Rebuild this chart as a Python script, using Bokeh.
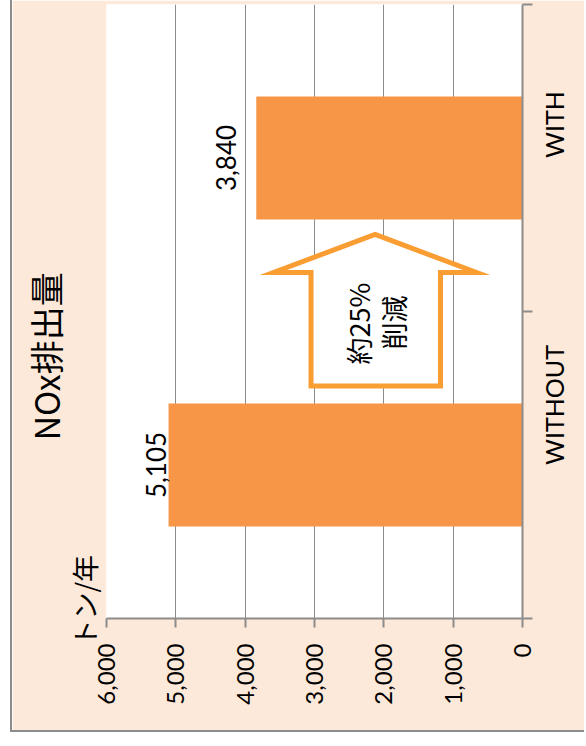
import math
from bokeh.plotting import figure
from bokeh.models import (Range1d, LinearAxis, FixedTicker, NumeralTickFormatter,
                          ColumnDataSource, Label, PolyAnnotation, Grid, Title)
from bokeh.core.properties import value
from bokeh.embed import file_html
from bokeh.resources import INLINE

# ---- data ----
categories = ["WITHOUT", "WITH"]
emissions = [5105, 3840]
emission_labels = ["5,105", "3,840"]
value_ticks = [0, 1000, 2000, 3000, 4000, 5000, 6000]
title_text = "NOx排出量"
unit_text = "トン/年"
arrow_line1 = "約25%"
arrow_line2 = "削減"

# ---- styles ----
PINK = "#FDE9D9"
BAR = "#F79646"
ARROW = "#FA9E33"
GRAY = "#8C8C8C"
LATIN = "Lato"
CJK = "Noto Sans CJK JP"
label_dx = [-13, -30]

centers = [i + 0.5 for i in range(len(categories))]
bounds = list(range(len(categories) + 1))

src = ColumnDataSource(dict(y=centers, v=emissions, t=emission_labels, dx=label_dx))

p = figure(width=574, height=732, output_backend="svg", toolbar_location=None,
           x_range=Range1d(max(value_ticks), 0), y_range=Range1d(0, len(categories)),
           x_axis_location=None, y_axis_location=None,
           min_border_left=94, min_border_right=64, min_border_top=4, min_border_bottom=114)
p.center = [r for r in p.center if not isinstance(r, Grid)]
p.border_fill_color = PINK
p.background_fill_color = "white"
p.outline_line_color = None
p.margin = (0, 0, 12, 10)
p.styles = {"border-left": "2px solid #8C8C8C", "border-bottom": "2px solid #8C8C8C"}

# value axis (bottom)
xaxis = LinearAxis(ticker=FixedTicker(ticks=value_ticks),
                   formatter=NumeralTickFormatter(format="0,0"))
xaxis.major_label_orientation = math.pi / 2
xaxis.major_tick_out = 9
xaxis.major_tick_in = 0
xaxis.minor_tick_line_color = None
xaxis.axis_line_color = GRAY
xaxis.axis_line_width = 2
xaxis.major_tick_line_color = GRAY
xaxis.major_tick_line_width = 2
xaxis.major_label_text_font = LATIN
xaxis.major_label_text_font_size = "24px"
xaxis.major_label_text_color = "black"
xaxis.major_label_standoff = 16
p.add_layout(xaxis, "below")

p.add_layout(Grid(dimension=0, ticker=FixedTicker(ticks=value_ticks),
                  grid_line_color=GRAY, grid_line_width=1))

# category axis (right)
yaxis = LinearAxis(ticker=FixedTicker(ticks=centers, minor_ticks=bounds),
                   major_label_overrides={c: n for c, n in zip(centers, categories)})
yaxis.major_label_orientation = math.pi / 2
yaxis.major_tick_out = 0
yaxis.major_tick_in = 0
yaxis.major_tick_line_color = None
yaxis.minor_tick_out = 10
yaxis.minor_tick_in = 0
yaxis.minor_tick_line_color = GRAY
yaxis.minor_tick_line_width = 2
yaxis.axis_line_color = GRAY
yaxis.axis_line_width = 2
yaxis.major_label_text_font = LATIN
yaxis.major_label_text_font_size = "25px"
yaxis.major_label_text_color = "black"
yaxis.major_label_standoff = 21
p.add_layout(yaxis, "right")

# bars
p.hbar(y="y", left=0, right="v", height=0.4, source=src,
       fill_color=BAR, line_color=None)

# value labels
p.text(x="v", y="y", text="t", source=src, angle=math.pi / 2,
       text_align="center", text_baseline="middle", x_offset="dx",
       text_font=value(LATIN), text_font_size="26px", text_color="black")

# reduction arrow
arrow = PolyAnnotation(
    xs=[2127, 663, 1183, 1183, 3050, 3050, 3591],
    ys=[1.251, 1.127, 1.127, 0.757, 0.757, 1.127, 1.127],
    xs_units="data", ys_units="data",
    fill_color="white", fill_alpha=1.0, line_color=ARROW, line_alpha=1.0,
    line_width=5, line_join="miter")
p.add_layout(arrow)

p.add_layout(Label(x=2365, y=0.961, text=arrow_line1, angle=math.pi / 2,
                   text_align="center", text_baseline="middle",
                   text_font=CJK, text_font_size="27px", text_color="black"))
p.add_layout(Label(x=1861, y=0.964, text=arrow_line2, angle=math.pi / 2,
                   text_align="center", text_baseline="middle",
                   text_font=CJK, text_font_size="27px", text_color="black"))

# unit (nearest the frame) and title, on the left side
unit_title = Title(text=unit_text, align="left", offset=-28, standoff=6,
                   text_font=CJK, text_font_size="27px", text_font_style="normal",
                   text_line_height=0.75, text_color="black")
main_title = Title(text=title_text, align="left", offset=178, standoff=0,
                   text_font=CJK, text_font_size="34px", text_font_style="normal",
                   text_color="black")
try:
    main_title.standoff = -21
except Exception:
    main_title.standoff = 0
    main_title.text_line_height = 0.45
p.add_layout(unit_title, "left")
p.add_layout(main_title, "left")

open("out.html", "w").write(file_html(p, INLINE))
